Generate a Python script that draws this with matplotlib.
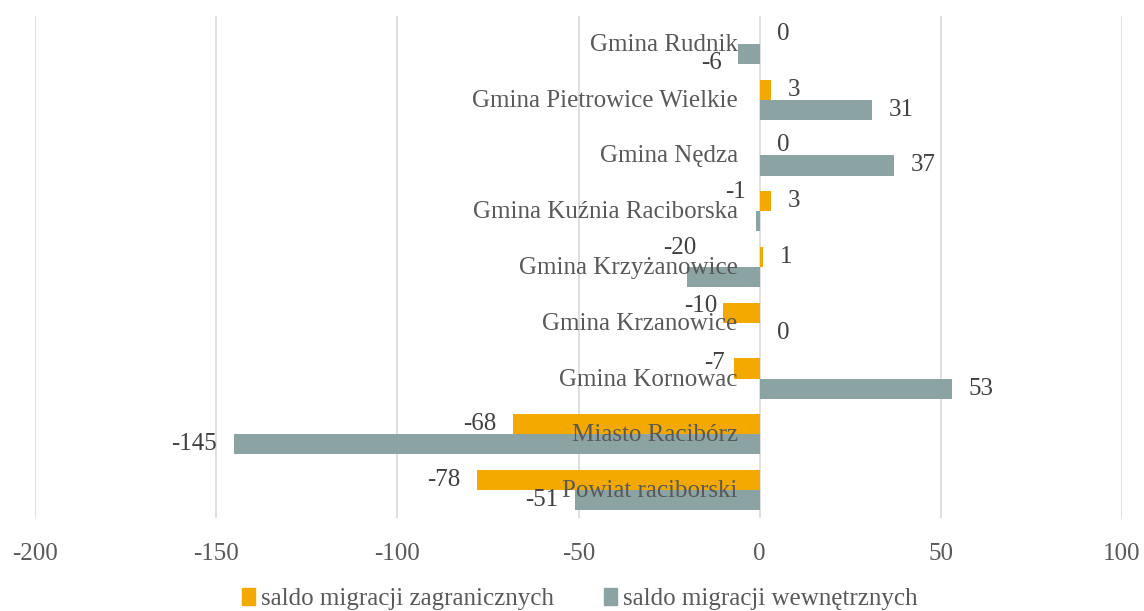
import matplotlib

matplotlib.use("Agg")

import matplotlib.pyplot as plt
from matplotlib.patches import Patch
import numpy as np

categories = [
    "Gmina Rudnik",
    "Gmina Pietrowice Wielkie",
    "Gmina Nędza",
    "Gmina Kuźnia Raciborska",
    "Gmina Krzyżanowice",
    "Gmina Krzanowice",
    "Gmina Kornowac",
    "Miasto Racibórz",
    "Powiat raciborski",
]
saldo_zagraniczne = [0, 3, 0, 3, 1, -10, -7, -68, -78]
saldo_wewnetrzne = [-6, 31, 37, -1, -20, 0, 53, -145, -51]
series_names = ["saldo migracji zagranicznych", "saldo migracji wewnętrznych"]
x_ticks = [-200, -150, -100, -50, 0, 50, 100]

ORANGE = "#F4A900"
GREY = "#8BA3A3"
TEXT_DARK = "#404040"
TEXT_MID = "#595959"
GRID = "#D9D9D9"
FS = 18

# manual label nudges (pixels) as in the original chart
nudges = {
    (1, 0): (1, -9),
    (1, 3): (7, 29),
    (1, 4): (26, 29),
    (0, 5): (11, 7),
    (0, 6): (8, 6),
}

plt.rcParams["font.family"] = ["Liberation Serif", "DejaVu Serif"]

fig = plt.figure(figsize=(11.44, 6.11), dpi=100)
ax = fig.add_axes([0.0306, 0.1522, 0.9502, 0.8216])

y = np.arange(len(categories))
h = 0.36
series = [saldo_zagraniczne, saldo_wewnetrzne]
colors = [ORANGE, GREY]
offsets = [-h / 2, h / 2]

for s, (vals, col, off) in enumerate(zip(series, colors, offsets)):
    ax.barh(y + off, vals, height=h, color=col, zorder=2)
    for i, v in enumerate(vals):
        dx, dy = nudges.get((s, i), (0, 0))
        sign = -1 if v < 0 else 1
        ax.annotate(
            str(v),
            xy=(v, y[i] + off),
            xytext=(sign * 17 + dx, dy),
            textcoords="offset pixels",
            ha="right" if v < 0 else "left",
            va="center",
            fontsize=FS,
            color=TEXT_DARK,
            zorder=3,
        )

for i, name in enumerate(categories):
    ax.annotate(
        name,
        xy=(0, y[i]),
        xytext=(-22, -1),
        textcoords="offset pixels",
        ha="right",
        va="center",
        fontsize=FS,
        color=TEXT_MID,
        zorder=4,
    )

ax.set_xlim(-200, 100)
ax.set_ylim(len(categories) - 0.5, -0.5)
ax.set_xticks(x_ticks)
ax.set_xticklabels([str(t) for t in x_ticks], fontsize=FS, color=TEXT_MID)
ax.tick_params(axis="x", length=0, pad=18)
ax.set_yticks([])
ax.grid(True, axis="x", color=GRID, linewidth=1.2, zorder=0)
ax.set_axisbelow(True)
for sp in ax.spines.values():
    sp.set_visible(False)

handles = [Patch(color=c) for c in colors]
fig.legend(
    handles,
    series_names,
    loc="center",
    bbox_to_anchor=(0.507, 0.02),
    ncol=2,
    frameon=False,
    fontsize=FS,
    handlelength=0.5,
    handleheight=0.7,
    handletextpad=0.25,
    columnspacing=2.0,
    labelcolor=TEXT_MID,
)

fig.savefig("out.png", dpi=100)
